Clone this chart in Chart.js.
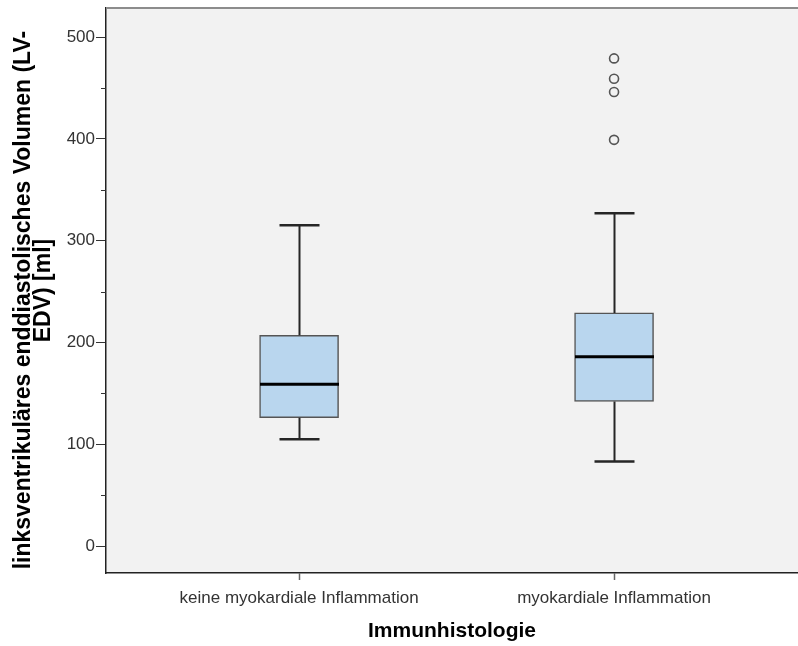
<!DOCTYPE html>
<html>
<head>
<meta charset="utf-8">
<script src="https://cdn.jsdelivr.net/npm/chart.js@4"></script>
<style>
  html,body{margin:0;padding:0;background:#fff;overflow:hidden}
  #wrap{width:798px;height:646px}
  canvas{display:block}
</style>
</head>
<body>
<div id="wrap"><canvas id="c" width="798" height="646"></canvas></div>
<script>
// data (ml)
const groups = ['keine myokardiale Inflammation', 'myokardiale Inflammation'];
const whiskerLow = [105, 83];
const q1 = [126, 142];
const medians = [159, 186];
const q3 = [207, 229];
const whiskerHigh = [315, 327];
const outliers = [[], [399, 446, 459, 479]];
const yTicks = [0, 100, 200, 300, 400, 500];
const yMinor = [50, 150, 250, 350, 450];

const tickFont = { family: "'Liberation Sans', Arial, sans-serif", size: 17 };
const xTitleFont = { family: "'Liberation Sans', Arial, sans-serif", size: 21, weight: 'bold' };
const yTitleFont = { family: "'Liberation Sans', Arial, sans-serif", size: 23, weight: 'bold', lineHeight: '20px' };

// box positions are 1..n on a linear x axis
const boxData = groups.map((g, i) => ({ x: i + 1, y: [q1[i], q3[i]] }));
const outlierData = [];
outliers.forEach((arr, i) => arr.forEach(v => outlierData.push({ x: i + 1, y: v })));

const boxExtras = {
  id: 'boxExtras',
  beforeDraw(chart) {
    const { ctx, chartArea: a } = chart;
    ctx.save();
    ctx.fillStyle = '#f2f2f2';
    ctx.fillRect(a.left, a.top, a.right - a.left, a.bottom - a.top);
    ctx.restore();
  },
  afterDatasetsDraw(chart) {
    const { ctx, scales: { x, y } } = chart;
    const capHalf = 20, boxHalf = 39.5;
    ctx.save();
    groups.forEach((g, i) => {
      const cx = Math.round(x.getPixelForValue(i + 1)) + 0.5;
      // whiskers
      ctx.strokeStyle = '#262626';
      ctx.lineWidth = 2;
      ctx.beginPath();
      ctx.moveTo(cx, y.getPixelForValue(q3[i]));
      ctx.lineTo(cx, y.getPixelForValue(whiskerHigh[i]));
      ctx.moveTo(cx, y.getPixelForValue(q1[i]));
      ctx.lineTo(cx, y.getPixelForValue(whiskerLow[i]));
      ctx.stroke();
      // caps
      ctx.lineWidth = 2.5;
      ctx.beginPath();
      [whiskerHigh[i], whiskerLow[i]].forEach(v => {
        const py = y.getPixelForValue(v);
        ctx.moveTo(cx - capHalf, py);
        ctx.lineTo(cx + capHalf, py);
      });
      ctx.stroke();
      // median
      ctx.strokeStyle = '#000';
      ctx.lineWidth = 3;
      ctx.beginPath();
      const my = y.getPixelForValue(medians[i]);
      ctx.moveTo(cx - boxHalf, my);
      ctx.lineTo(cx + boxHalf, my);
      ctx.stroke();
    });
    ctx.restore();
  },
  afterDraw(chart) {
    const { ctx, chartArea: a, scales: { y } } = chart;
    ctx.save();
    // top frame line
    ctx.strokeStyle = '#8c8c8c';
    ctx.lineWidth = 2;
    ctx.beginPath();
    ctx.moveTo(a.left, a.top);
    ctx.lineTo(a.right, a.top);
    ctx.stroke();
    // minor y ticks
    ctx.strokeStyle = '#333';
    ctx.lineWidth = 1;
    ctx.beginPath();
    yMinor.forEach(v => {
      const py = Math.round(y.getPixelForValue(v)) + 0.5;
      ctx.moveTo(a.left - 5, py);
      ctx.lineTo(a.left, py);
    });
    ctx.stroke();
    ctx.restore();
  }
};

new Chart(document.getElementById('c'), {
  type: 'bar',
  data: {
    datasets: [
      {
        data: boxData,
        backgroundColor: '#b9d6ee',
        borderColor: '#555',
        borderWidth: 1.5,
        borderSkipped: false,
        barThickness: 79
      },
      {
        type: 'scatter',
        data: outlierData,
        pointStyle: 'circle',
        pointRadius: 4.5,
        pointBackgroundColor: 'rgba(0,0,0,0)',
        pointBorderColor: '#555',
        pointBorderWidth: 1.6
      }
    ]
  },
  options: {
    responsive: false,
    animation: false,
    layout: { autoPadding: false, padding: { top: 8, right: 0, left: 0, bottom: 0 } },
    plugins: { legend: { display: false }, tooltip: { enabled: false } },
    scales: {
      x: {
        type: 'linear',
        min: 0.387,
        max: 2.584,
        offset: false,
        afterBuildTicks: s => { s.ticks = groups.map((g, i) => ({ value: i + 1 })); },
        afterFit: s => { s.height = 73; s.paddingLeft = 0; s.paddingRight = 0; },
        ticks: {
          autoSkip: false,
          maxRotation: 0,
          padding: 8,
          color: '#333',
          font: tickFont,
          callback: v => groups[v - 1]
        },
        grid: { offset: false, drawOnChartArea: false, tickLength: 7, tickColor: '#666', tickWidth: 1.5 },
        border: { color: '#222', width: 1.5 },
        title: { display: true, text: 'Immunhistologie', color: '#000', font: xTitleFont, padding: { top: 0, bottom: 2 } }
      },
      y: {
        min: -26.5,
        max: 528.5,
        afterBuildTicks: s => { s.ticks = yTicks.map(v => ({ value: v })); },
        afterFit: s => { s.width = 106; s.paddingTop = 0; s.paddingBottom = 0; },
        ticks: { color: '#333', font: tickFont, padding: 1 },
        grid: { drawOnChartArea: false, tickLength: 10, tickColor: '#333', tickWidth: 1 },
        border: { color: '#222', width: 1.5 },
        title: {
          display: true,
          text: ['linksventrikuläres enddiastolisches Volumen (LV-   ', 'EDV) [ml]'],
          color: '#000',
          font: yTitleFont,
          padding: { top: 14, bottom: 0 }
        }
      }
    }
  },
  plugins: [boxExtras]
});
</script>
</body>
</html>
